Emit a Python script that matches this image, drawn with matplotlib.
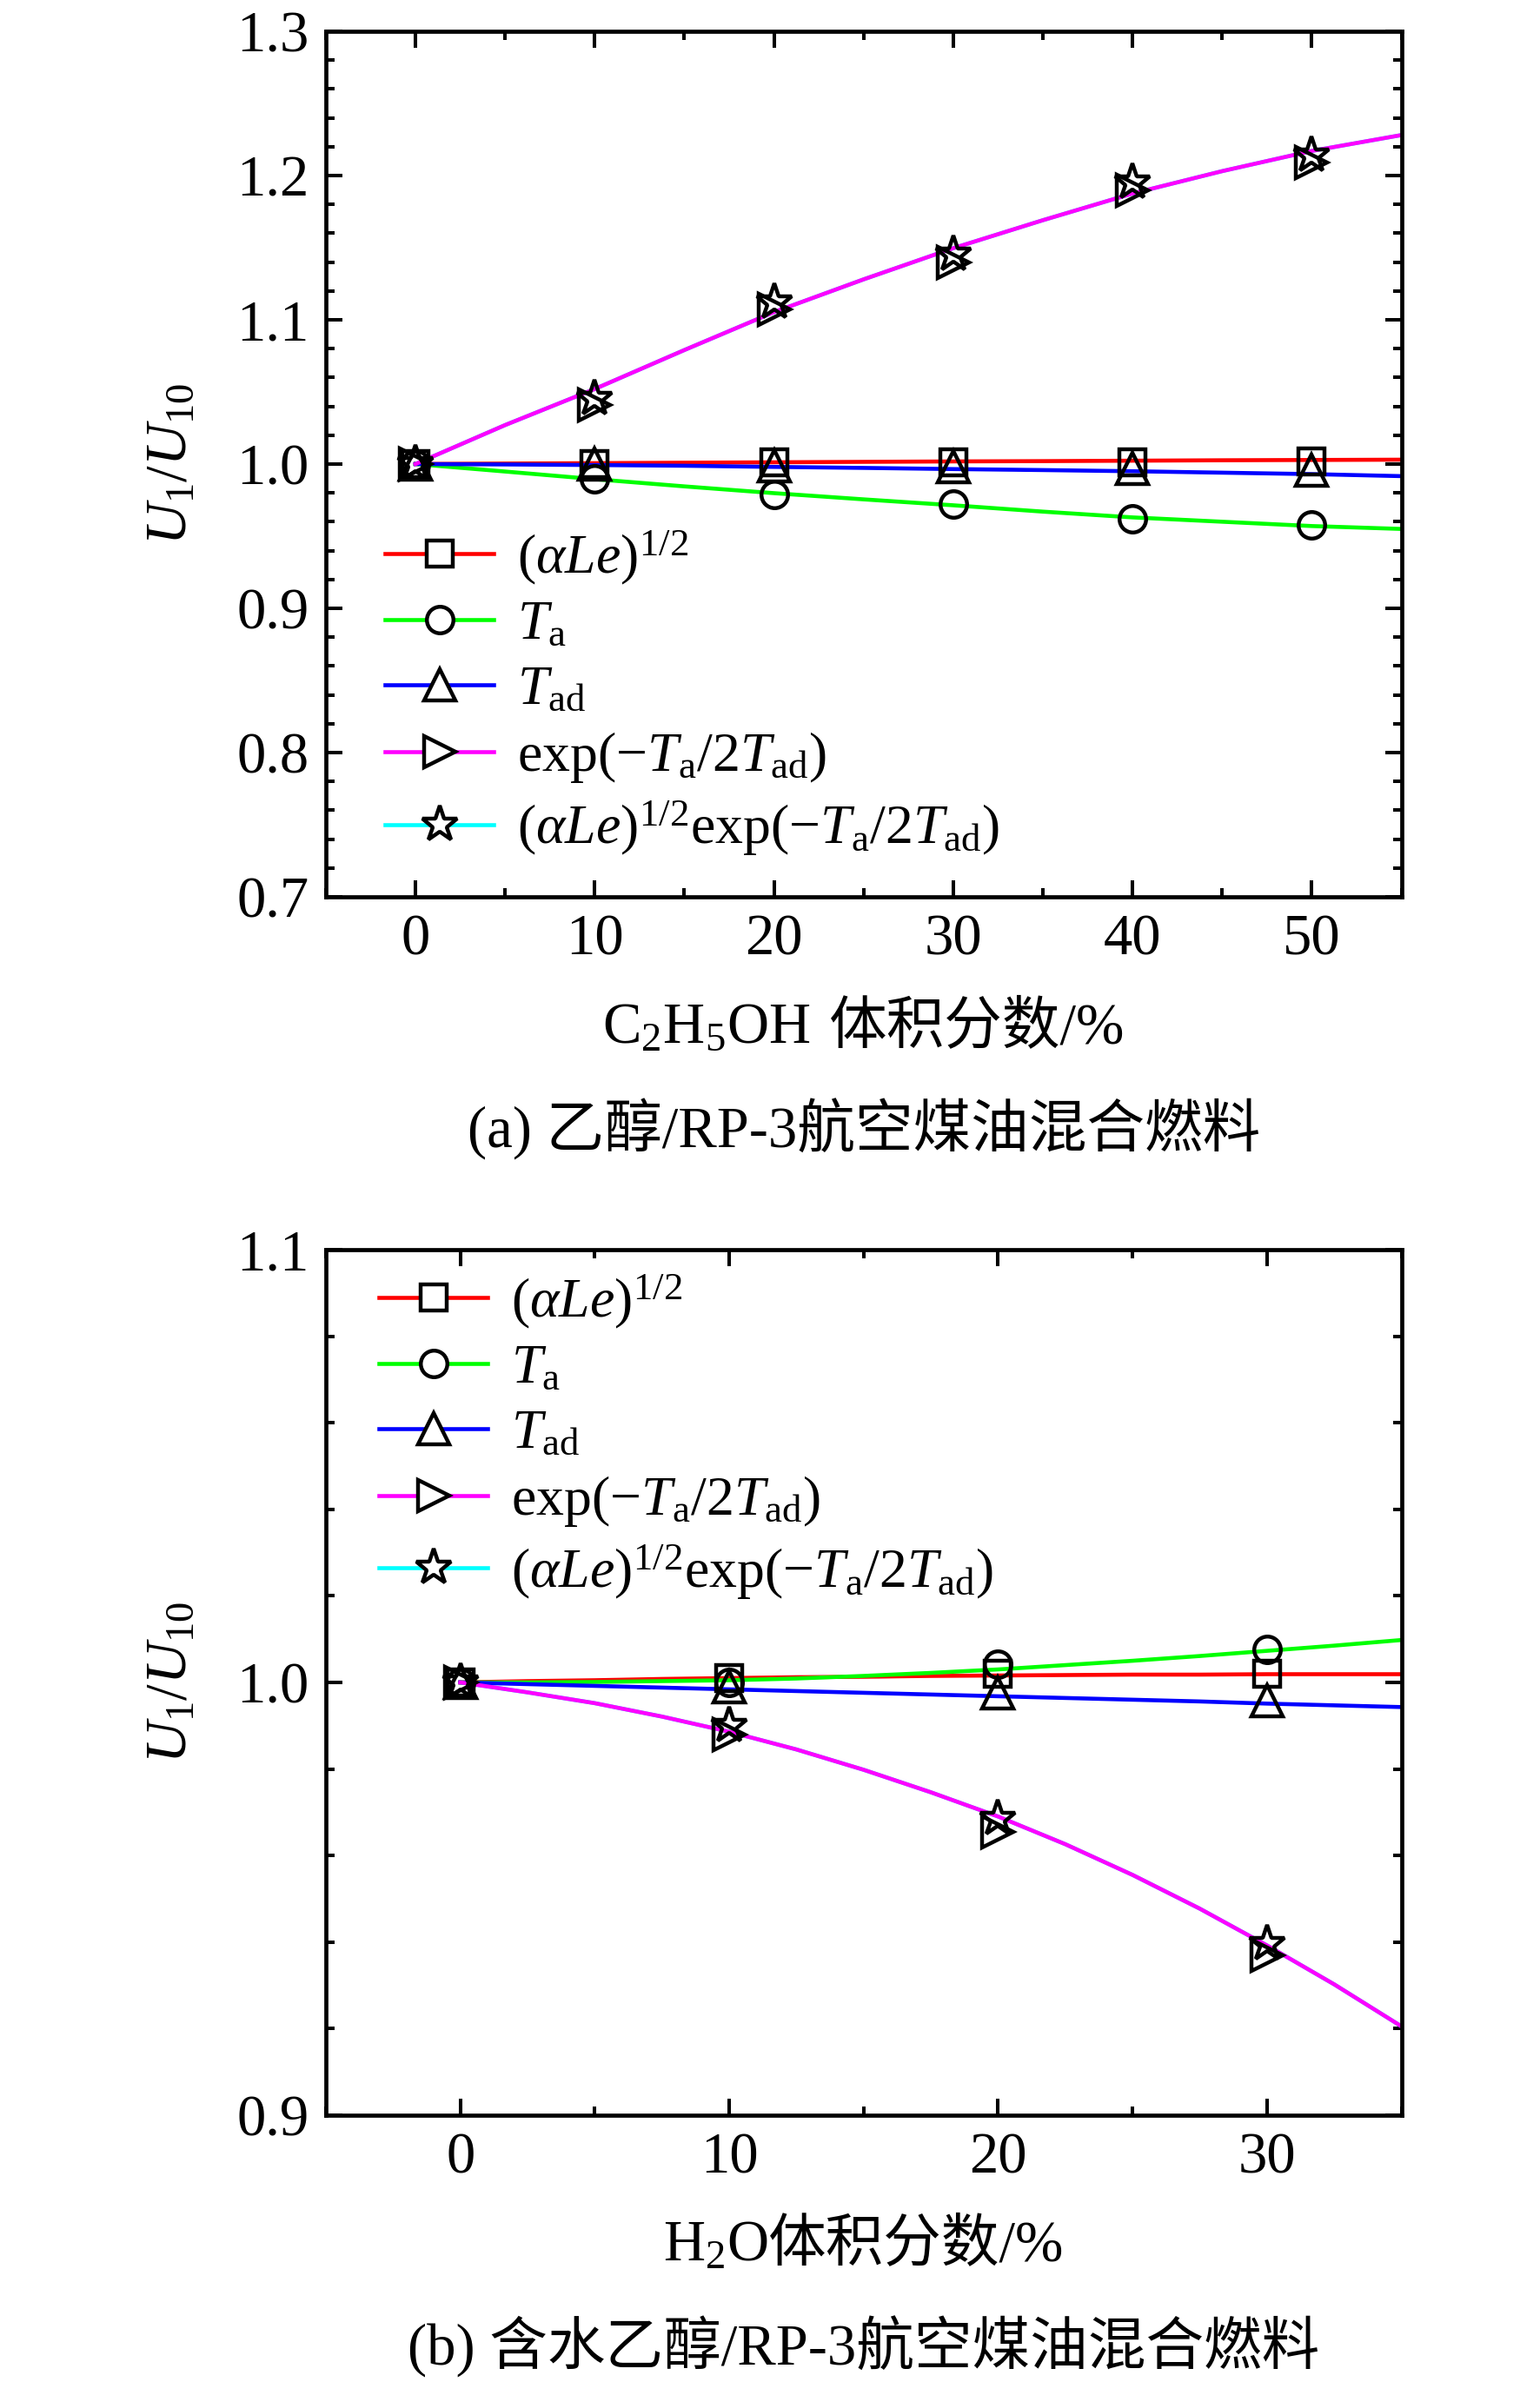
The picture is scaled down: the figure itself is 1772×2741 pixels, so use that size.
import matplotlib
matplotlib.use('Agg')
import matplotlib.pyplot as plt
from matplotlib.lines import Line2D
from matplotlib.ticker import MultipleLocator
from matplotlib.offsetbox import TextArea, HPacker, AnnotationBbox

plt.rcParams['font.family'] = ['Liberation Serif', 'Noto Sans CJK SC']
plt.rcParams['mathtext.fontset'] = 'custom'
plt.rcParams['mathtext.rm'] = 'Liberation Serif'
plt.rcParams['mathtext.it'] = 'Liberation Serif:italic'
plt.rcParams['mathtext.bf'] = 'Liberation Serif:bold'

# ---------------- data ----------------
series_labels = [r'$(\alpha Le)^{1/2}$', r'$T_\mathrm{a}$', r'$T_\mathrm{ad}$',
                 r'$\exp(-T_\mathrm{a}/2T_\mathrm{ad})$',
                 r'$(\alpha Le)^{1/2}\exp(-T_\mathrm{a}/2T_\mathrm{ad})$']
series_colors = ['#FF0000', '#00FF00', '#0000FF', '#FF00FF', '#00FFFF']
series_markers = ['s', 'o', '^', '>', '*']

# panel (a): C2H5OH volume fraction
xa_pts = [0, 10, 20, 30, 40, 50]
sq_a = [1.000, 1.000, 1.001, 1.001, 1.001, 1.002]
ci_a = [1.000, 0.990, 0.979, 0.972, 0.962, 0.958]
tr_a = [1.000, 1.000, 0.999, 0.998, 0.997, 0.996]
rt_a = [1.000, 1.041, 1.107, 1.140, 1.190, 1.209]
st_a = [1.000, 1.045, 1.112, 1.145, 1.195, 1.214]

xa_line = [0, 5, 10, 15, 20, 25, 30, 35, 40, 45, 50, 55]
red_a = [1.000, 1.0003, 1.0006, 1.0009, 1.0012, 1.0015, 1.0018, 1.0020, 1.0023, 1.0026, 1.0028, 1.0030]
green_a = [1.000, 0.9948, 0.9895, 0.9845, 0.9798, 0.9755, 0.9714, 0.9670, 0.9630, 0.9600, 0.9570, 0.9550]
blue_a = [1.000, 0.9997, 0.9993, 0.9988, 0.9980, 0.9973, 0.9965, 0.9958, 0.9950, 0.9940, 0.9930, 0.9916]
mag_a = [1.000, 1.027, 1.052, 1.079, 1.1053, 1.128, 1.1496, 1.169, 1.1875, 1.203, 1.217, 1.228]
cyan_a = [1.000, 1.027, 1.052, 1.079, 1.1053, 1.128, 1.1496, 1.169, 1.1875, 1.203, 1.217, 1.228]

# panel (b): H2O volume fraction
xb_pts = [0, 10, 20, 30]
sq_b = [1.000, 1.001, 1.002, 1.002]
ci_b = [1.000, 1.000, 1.0043, 1.0077]
tr_b = [1.000, 0.999, 0.9975, 0.9957]
rt_b = [1.000, 0.988, 0.9654, 0.9369]
st_b = [1.000, 0.990, 0.9685, 0.9396]

xb_line = [0, 2.5, 5, 7.5, 10, 12.5, 15, 17.5, 20, 22.5, 25, 27.5, 30, 32.5, 35]
red_b = [1.000, 1.0003, 1.0005, 1.0008, 1.0010, 1.0012, 1.0013, 1.0015, 1.0016, 1.0017,
         1.0018, 1.0018, 1.0019, 1.0019, 1.0019]
green_b = [1.000, 1.0000, 1.0001, 1.0003, 1.0005, 1.0009, 1.0015, 1.0022, 1.0030, 1.0040,
           1.0050, 1.0061, 1.0073, 1.0085, 1.0098]
blue_b = [1.000, 0.9996, 0.9992, 0.9988, 0.9984, 0.9980, 0.9976, 0.9972, 0.9968, 0.9964,
          0.9960, 0.9956, 0.9951, 0.9947, 0.9943]
mag_b = [1.000, 0.9977, 0.9952, 0.9921, 0.9886, 0.9845, 0.9798, 0.9746, 0.9690, 0.9626,
         0.9555, 0.9477, 0.9392, 0.9302, 0.9205]
cyan_b = [1.000, 0.9977, 0.9952, 0.9921, 0.9886, 0.9845, 0.9798, 0.9746, 0.9690, 0.9626,
          0.9555, 0.9477, 0.9392, 0.9302, 0.9205]

# ---------------- style ----------------
FS = 48
LFS = 46
LW = 3.3
MEW = 3.2
msizes = [21, 22, 26, 26, 31]
fam = ['Liberation Serif', 'Noto Sans CJK SC']

fig = plt.figure(figsize=(17.72, 27.41), dpi=100)
ax_a = fig.add_axes([0.2116, 0.6235, 0.6984, 0.3634])
ax_b = fig.add_axes([0.2116, 0.1121, 0.6984, 0.3632])


def draw_panel(ax, x_pts, pts, x_line, lines, xlim, ylim, ymin_step,
               leg_anchor, xl_parts, xl_sep, caption):
    # lines (cyan under magenta)
    ax.plot(x_line, lines[4], color=series_colors[4], lw=LW, zorder=1.8)
    for i in range(4):
        ax.plot(x_line, lines[i], color=series_colors[i], lw=LW, zorder=2)
    for i in range(5):
        ax.plot(x_pts, pts[i], linestyle='none', marker=series_markers[i],
                ms=msizes[i], mfc='none', mec='black', mew=MEW, zorder=3)
    ax.set_xlim(*xlim)
    ax.set_ylim(*ylim)
    ax.xaxis.set_major_locator(MultipleLocator(10))
    ax.xaxis.set_minor_locator(MultipleLocator(5))
    ax.yaxis.set_major_locator(MultipleLocator(0.1))
    ax.yaxis.set_minor_locator(MultipleLocator(ymin_step))
    ax.tick_params(which='both', direction='in', top=True, right=True,
                   width=2.9, labelsize=FS)
    ax.tick_params(which='major', length=14, pad=14)
    ax.tick_params(which='minor', length=7)
    for sp in ax.spines.values():
        sp.set_linewidth(3.4)
    ax.set_ylabel(r'$U_\mathrm{1}/U_\mathrm{10}$', fontsize=FS, va='center')
    ax.yaxis.set_label_coords(-0.144, 0.5)

    handles = [Line2D([], [], color=series_colors[i], lw=LW,
                      marker=series_markers[i], ms=msizes[i], mfc='white',
                      mec='black', mew=MEW) for i in range(5)]
    ax.legend(handles, series_labels, loc='center left',
              bbox_to_anchor=leg_anchor, frameon=False, fontsize=LFS,
              handlelength=1.96, handletextpad=0.42, borderpad=0,
              borderaxespad=0, labelspacing=0.25)

    children = [TextArea(p, textprops=dict(fontsize=FS, family=fam)) for p in xl_parts]
    pack = HPacker(children=children, align='baseline', pad=0, sep=xl_sep)
    ab = AnnotationBbox(pack, (0.5, -0.1516), xycoords='axes fraction',
                        box_alignment=(0.5, 0.5), frameon=False, pad=0,
                        annotation_clip=False)
    ax.add_artist(ab)
    ax.text(0.5, -0.268, caption, transform=ax.transAxes, ha='center',
            va='center', fontsize=FS, family=fam)


draw_panel(ax_a, xa_pts, [sq_a, ci_a, tr_a, rt_a, st_a], xa_line,
           [red_a, green_a, blue_a, mag_a, cyan_a], (-5, 55), (0.7, 1.3), 0.02,
           (0.055, 0.2354), ['C$_2$H$_5$OH', '体积分数/%'], 15,
           '(a) 乙醇/RP-3航空煤油混合燃料')
draw_panel(ax_b, xb_pts, [sq_b, ci_b, tr_b, rt_b, st_b], xb_line,
           [red_b, green_b, blue_b, mag_b, cyan_b], (-5, 35), (0.9, 1.1), 0.02,
           (0.0493, 0.7838), ['H$_2$O', '体积分数/%'], 0,
           '(b) 含水乙醇/RP-3航空煤油混合燃料')

fig.savefig('out.png', dpi=100)
